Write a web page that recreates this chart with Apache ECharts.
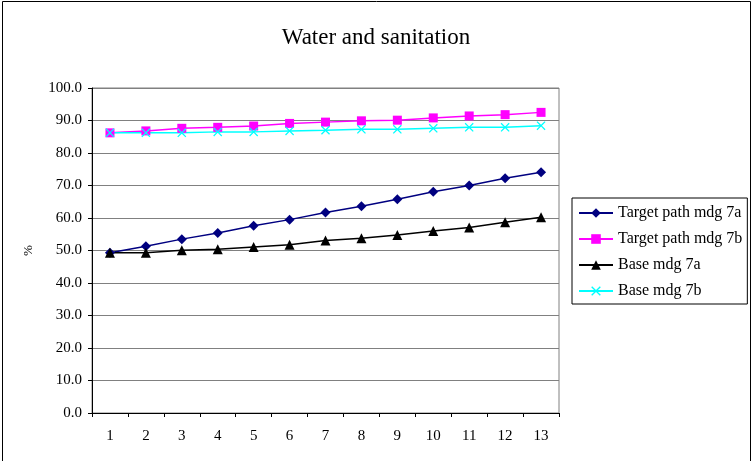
<!DOCTYPE html>
<html>
<head>
<meta charset="utf-8">
<script src="https://cdn.jsdelivr.net/npm/echarts@6/dist/echarts.min.js"></script>
<style>html,body{margin:0;padding:0;background:#fff;}#c{width:752px;height:461px;}</style>
</head>
<body>
<div id="c"></div>
<script>
const categories = ['1','2','3','4','5','6','7','8','9','10','11','12','13'];
const targetMdg7a = [49.3,51.3,53.5,55.4,57.6,59.5,61.7,63.6,65.8,68.1,70.0,72.2,74.1];
const targetMdg7b = [86.2,86.8,87.6,87.9,88.3,89.1,89.5,89.9,90.1,90.8,91.4,91.8,92.5];
const baseMdg7a = [49.3,49.3,50.1,50.4,51.1,51.8,53.1,53.8,54.8,56.0,57.1,58.7,60.2];
const baseMdg7b = [86.2,86.2,86.2,86.5,86.5,86.8,87.0,87.3,87.3,87.6,87.9,87.9,88.4];
const seriesNames = ['Target path mdg 7a','Target path mdg 7b','Base mdg 7a','Base mdg 7b'];

const font = '"Liberation Serif","DejaVu Serif",serif';
const xSym = 'path://M0,1 L1,0 L5,4 L9,0 L10,1 L6,5 L10,9 L9,10 L5,6 L1,10 L0,9 L4,5 Z';

function mk(name, data, color, symbol, size) {
  return {
    name: name, type: 'line', data: data,
    symbol: symbol, symbolSize: size, showAllSymbol: true,
    lineStyle: {color: color, width: 1.5},
    itemStyle: {color: color, borderWidth: 0},
    emphasis: {disabled: true},
    animation: false
  };
}

const chart = echarts.init(document.getElementById('c'), null, {renderer: 'canvas'});
chart.setOption({
  backgroundColor: '#fff',
  animation: false,
  title: {
    text: 'Water and sanitation', left: 'center', top: 21,
    textStyle: {fontFamily: font, fontSize: 23, fontWeight: 'normal', color: '#000'}
  },
  graphic: [{
    type: 'rect', shape: {x: 2.5, y: 1.5, width: 748, height: 480},
    style: {fill: 'none', stroke: '#000', lineWidth: 1}, silent: true
  }],
  legend: {
    orient: 'vertical', left: 572, top: 198,
    itemWidth: 34, itemHeight: 12, itemGap: 10,
    padding: [7, 5, 5, 6],
    borderColor: '#000', borderWidth: 1,
    textStyle: {fontFamily: font, fontSize: 16, lineHeight: 16, color: '#000'},
    data: seriesNames
  },
  grid: {
    left: 92, top: 88, right: 193, bottom: 48,
    show: true, borderColor: '#808080', borderWidth: 1
  },
  xAxis: {
    type: 'category', data: categories, boundaryGap: true,
    axisLine: {lineStyle: {color: '#000', width: 1}},
    axisTick: {show: true, length: 4, alignWithLabel: false, lineStyle: {color: '#000'}},
    axisLabel: {fontFamily: font, fontSize: 15, color: '#000', margin: 16},
    splitLine: {show: false}
  },
  yAxis: {
    type: 'value', min: 0, max: 100, interval: 10,
    name: '%', nameLocation: 'middle', nameGap: 57, nameRotate: 90,
    nameTextStyle: {fontFamily: font, fontSize: 13, color: '#000'},
    axisLine: {show: true, lineStyle: {color: '#000', width: 1}},
    axisTick: {show: true, length: 4, lineStyle: {color: '#000'}},
    axisLabel: {fontFamily: font, fontSize: 15, color: '#000', margin: 10,
      formatter: v => v.toFixed(1)},
    splitLine: {show: true, lineStyle: {color: '#808080', width: 1}}
  },
  series: [
    mk(seriesNames[0], targetMdg7a, '#000080', 'diamond', 10),
    mk(seriesNames[1], targetMdg7b, '#FF00FF', 'rect', 9),
    mk(seriesNames[2], baseMdg7a, '#000000', 'triangle', 10),
    mk(seriesNames[3], baseMdg7b, '#00FFFF', xSym, 9)
  ]
});
</script>
</body>
</html>
